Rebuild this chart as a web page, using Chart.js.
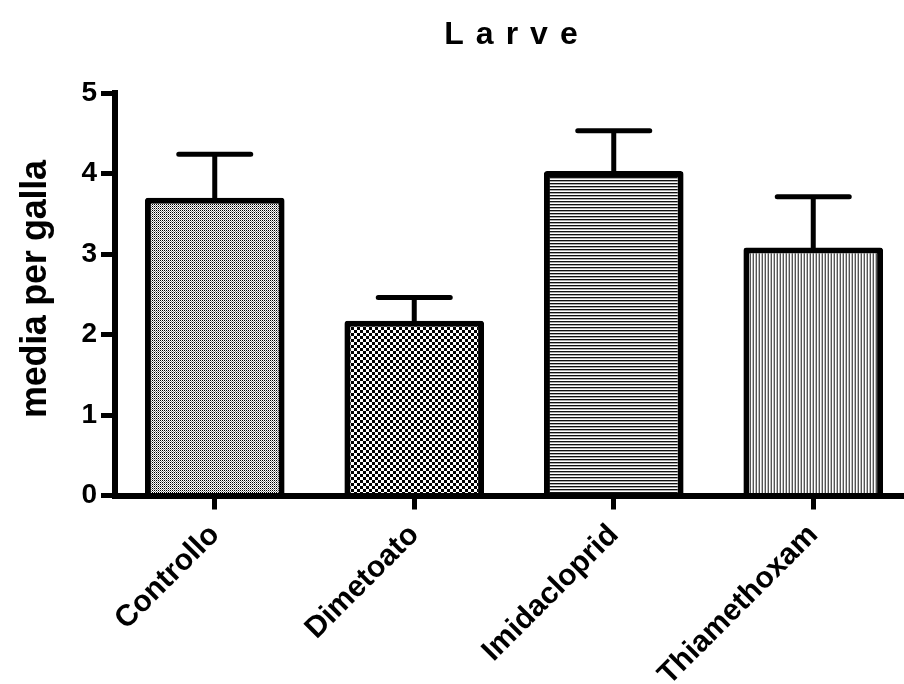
<!DOCTYPE html>
<html>
<head>
<meta charset="utf-8">
<script src="https://cdn.jsdelivr.net/npm/chart.js@4"></script>
<style>
  html, body { margin: 0; padding: 0; background: #fff; overflow: hidden; }
  #wrap { width: 904px; height: 684px; overflow: hidden; }
  canvas { display: block; }
</style>
</head>
<body>
<div id="wrap"><canvas id="c" width="916" height="684"></canvas></div>
<script>
const categories = ['Controllo', 'Dimetoato', 'Imidacloprid', 'Thiamethoxam'];
const means = [3.70, 2.17, 4.03, 3.08];
const sem = [0.54, 0.29, 0.50, 0.63];
const yTicks = [0, 1, 2, 3, 4, 5];
const chartTitle = 'Larve';
const yTitle = 'media per galla';

const FONT = '"Liberation Sans", Arial, sans-serif';

// Small tiles used as hatch fills for each bar
function makePattern(w, h, paint) {
  const c = document.createElement('canvas');
  c.width = w; c.height = h;
  const g = c.getContext('2d');
  g.fillStyle = '#fff';
  g.fillRect(0, 0, w, h);
  paint(g);
  return document.getElementById('c').getContext('2d').createPattern(c, 'repeat');
}
const fills = [
  // fine dotted mesh
  makePattern(2, 2, g => { g.fillStyle = '#000'; g.fillRect(0, 0, 1, 1); g.fillStyle = '#888'; g.fillRect(1, 1, 1, 1); }),
  // coarse checkerboard
  makePattern(6, 6, g => { g.fillStyle = '#000'; g.fillRect(0, 0, 3, 3); g.fillRect(3, 3, 3, 3); }),
  // horizontal rules
  makePattern(1, 3, g => { g.fillStyle = '#111'; g.fillRect(0, 0, 1, 1); g.fillStyle = '#aaa'; g.fillRect(0, 1, 1, 1); }),
  // vertical rules
  makePattern(3, 1, g => { g.fillStyle = '#555'; g.fillRect(0, 0, 1, 1); g.fillStyle = '#bbb'; g.fillRect(2, 0, 1, 1); })
];

const errorBars = {
  id: 'errorBars',
  afterDatasetsDraw(chart) {
    const ctx = chart.ctx;
    const meta = chart.getDatasetMeta(0);
    const y = chart.scales.y;
    ctx.save();
    ctx.strokeStyle = '#000';
    ctx.lineWidth = 5;
    ctx.lineCap = 'round';
    meta.data.forEach((bar, i) => {
      const top = y.getPixelForValue(means[i] + sem[i]);
      ctx.beginPath();
      ctx.moveTo(bar.x, bar.y);
      ctx.lineTo(bar.x, top);
      ctx.moveTo(bar.x - 36, top);
      ctx.lineTo(bar.x + 36, top);
      ctx.stroke();
    });
    ctx.restore();
  }
};

const titles = {
  id: 'titles',
  afterDraw(chart) {
    const ctx = chart.ctx;
    ctx.save();
    ctx.fillStyle = '#000';
    // main title, widely spaced
    ctx.font = 'bold 32px ' + FONT;
    ctx.letterSpacing = '12px';
    ctx.textAlign = 'left';
    ctx.textBaseline = 'alphabetic';
    const w = ctx.measureText(chartTitle).width - 12;
    ctx.fillText(chartTitle, 511 - w / 2, 44);
    // vertical axis title, tightly spaced
    ctx.font = 'bold 36px ' + FONT;
    ctx.letterSpacing = '-0.3px';
    ctx.translate(36, 289);
    ctx.rotate(-Math.PI / 2);
    const w2 = ctx.measureText(yTitle).width + 0.3;
    ctx.textBaseline = 'middle';
    ctx.fillText(yTitle, -w2 / 2, 0);
    ctx.restore();
  }
};

new Chart(document.getElementById('c'), {
  type: 'bar',
  data: {
    labels: categories,
    datasets: [{
      data: means,
      backgroundColor: fills,
      borderColor: '#000',
      borderWidth: 6,
      borderRadius: 3,
      borderSkipped: 'bottom',
      barPercentage: 0.70,
      categoryPercentage: 1.0
    }]
  },
  options: {
    responsive: false,
    animation: false,
    layout: { autoPadding: false, padding: { top: 93, right: 3, bottom: 0, left: 0 } },
    plugins: { legend: { display: false }, tooltip: { enabled: false }, title: { display: false } },
    scales: {
      x: {
        z: 1,
        offset: true,
        afterFit(s) { s.height = 684 - 495.5; },
        border: { display: true, color: '#000', width: 6 },
        grid: { display: true, offset: false, drawOnChartArea: false, color: '#000', lineWidth: 5, tickLength: 14 },
        ticks: {
          color: '#000',
          font: { family: FONT, weight: 'bold', size: 30 },
          minRotation: 45, maxRotation: 45, padding: 8, labelOffset: 0
        }
      },
      y: {
        z: 1,
        min: 0, max: 5,
        afterFit(s) { s.width = 115; },
        afterBuildTicks(s) { s.ticks = yTicks.map(v => ({ value: v })); },
        border: { display: true, color: '#000', width: 6 },
        grid: { display: true, drawOnChartArea: false, color: '#000', lineWidth: 5, tickLength: 14 },
        ticks: {
          color: '#000',
          font: { family: FONT, weight: 'bold', size: 28 },
          padding: 4
        }
      }
    }
  },
  plugins: [errorBars, titles]
});
</script>
</body>
</html>
